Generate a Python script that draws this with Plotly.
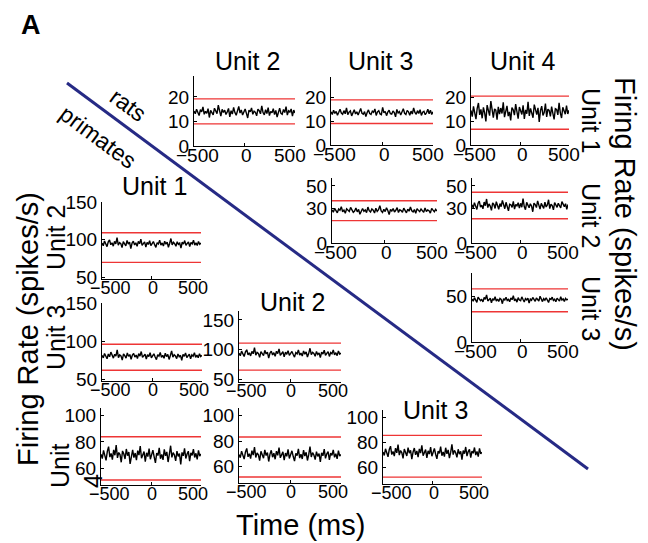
import numpy as np
import plotly.graph_objects as go

W, H = 648, 543
FONT = "Arial, Liberation Sans, sans-serif"

# ---- data -------------------------------------------------------------
time_ticks = [-500, 0, 500]
time_ticklabels = ["\u2212500", "0", "500"]

rat_row1_ticks = [0, 10, 20]
rat_row2_ticks = [0, 30, 50]
rat_row3_ticks = [0, 50]
pri_hi_ticks = [50, 100, 150]
pri_lo_ticks = [60, 80, 100]

# rats: row unit 1 vs column units 2,3,4 ; row unit 2 vs 3,4 ; row unit 3 vs 4
rat_1_2 = [14.2,13.1,15.0,13.6,12.4,14.8,13.9,15.9,12.9,14.1,13.3,15.2,11.6,14.5,13.8,12.7,15.4,14.0,13.2,16.6,13.5,12.2,14.9,13.7,14.6,12.8,13.9,15.3,11.9,14.4,13.0,15.7,13.6,12.5,14.3,16.1,13.4,14.7,12.6,13.8,15.1,13.3,11.4,14.6,13.9,15.5,12.9,14.2,13.7,12.3,15.0,14.4,13.1,16.3,13.6,12.7,14.8,13.2,15.6,12.4,14.1,13.5,15.2,12.8,14.5,11.8,14.0,15.4,13.3,12.9,14.9,13.6,16.0,12.6,14.3,13.8,15.1,12.2,14.6,13.4]
rat_1_3 = [13.9,12.8,14.6,13.2,14.1,12.5,13.7,15.0,13.4,12.9,14.4,13.1,15.6,12.7,13.8,14.3,12.2,13.5,14.8,13.0,13.9,12.6,14.5,15.3,13.3,12.9,14.0,11.9,13.6,14.7,13.2,12.8,14.2,13.7,15.1,12.4,13.9,14.4,13.0,12.7,15.8,13.5,14.1,12.3,13.8,14.6,13.1,12.9,14.3,13.6,11.8,14.9,13.4,14.0,12.6,13.7,15.2,13.3,12.8,14.5,13.9,12.5,14.2,13.0,15.5,13.6,12.9,14.4,13.2,14.8,12.4,13.7,14.1,12.7,13.5,15.0,13.1,14.6,12.8,13.9]
rat_1_4 = [14.5,11.9,16.2,13.0,10.8,15.4,17.6,12.6,14.9,11.2,15.8,13.5,9.9,16.7,14.1,12.3,18.4,13.7,11.5,15.1,14.6,10.6,16.0,12.9,15.5,13.2,17.9,11.7,14.3,16.4,12.1,13.9,10.3,15.7,14.8,12.5,17.1,13.4,11.0,15.9,14.2,12.8,16.6,10.9,14.7,13.1,18.1,12.2,15.3,13.8,11.4,16.9,14.0,12.7,15.6,9.7,14.4,16.3,12.4,13.6,17.4,11.8,15.0,14.5,12.0,16.1,13.3,10.7,15.2,14.9,12.6,17.7,13.5,11.3,15.8,14.1,12.9,16.5,13.0,14.6]
rat_2_3 = [29.1,27.0,30.4,28.2,26.5,29.8,28.7,31.9,27.4,28.9,26.1,30.0,28.4,27.6,31.2,29.3,26.9,28.0,30.7,27.3,29.5,25.2,28.6,30.2,27.8,29.0,26.6,31.5,28.3,27.1,29.9,28.8,26.3,30.5,27.7,29.2,32.8,28.1,26.8,29.6,27.5,30.9,28.5,24.9,29.4,28.0,30.3,27.2,28.7,31.0,26.7,29.1,28.4,27.0,30.6,28.9,26.4,29.7,27.9,31.6,28.2,27.3,29.3,26.0,30.1,28.6,27.5,29.8,28.1,26.9,30.8,27.6,29.0,28.3,26.2,30.4,28.8,27.4,29.5,28.0]
rat_2_4 = [33.6,30.8,35.4,32.1,29.4,34.9,36.8,31.5,33.2,29.9,35.9,32.7,38.6,31.0,34.3,32.4,28.7,35.1,33.8,30.3,36.2,32.9,29.6,34.6,31.8,37.4,33.0,30.1,35.7,32.3,28.2,34.0,33.5,31.2,36.5,29.8,33.9,32.6,35.3,30.6,34.8,31.4,39.0,32.0,29.2,35.6,33.3,30.9,34.4,32.5,27.4,35.0,33.7,31.1,36.9,32.2,29.7,34.7,33.1,30.4,35.8,31.6,33.4,37.9,30.2,34.1,32.8,29.0,35.5,33.6,31.3,34.9,32.0,30.7,36.3,33.2,31.9,34.5,29.5,33.8]
rat_3_4 = [47.3,44.9,48.8,46.1,43.7,49.5,47.9,45.6,46.8,44.2,49.0,47.1,51.8,45.3,46.5,48.4,43.1,47.6,46.0,49.9,45.0,47.4,44.6,48.1,46.9,42.2,47.8,46.3,49.3,45.7,47.0,44.4,48.6,46.6,51.0,45.2,47.5,43.9,48.9,46.2,45.5,49.7,46.8,44.1,47.9,46.4,48.2,42.8,47.2,45.9,49.1,46.7,44.8,48.5,47.0,45.1,50.4,46.3,44.5,47.7,46.1,48.7,45.4,43.6,47.8,46.9,49.4,45.8,47.1,44.3,48.3,46.6,45.0,49.8,46.2,47.5,44.7,48.0,46.4,47.3]

# primates: row unit 2 vs column unit 1 ; row unit 3 vs 1,2 ; row unit 4 vs 1,2,3
pri_2_1 = [95.6,92.1,98.4,94.0,90.8,97.2,99.9,93.4,95.9,91.5,97.8,94.6,102.7,92.8,96.3,94.9,89.6,97.5,95.2,91.9,99.1,94.3,96.8,88.3,95.7,98.2,93.1,96.0,91.2,97.9,94.7,100.8,92.5,95.4,97.1,90.4,96.5,93.8,98.7,92.2,95.0,97.6,93.5,89.9,96.2,94.4,99.5,92.9,95.8,91.7,98.0,94.1,96.9,90.1,95.3,101.6,93.2,96.6,94.8,91.4,97.4,93.9,95.5,88.9,96.7,94.2,98.9,92.6,95.1,97.0,91.1,96.4,94.5,99.3,93.0,95.9,92.4,97.7,94.0,95.6]
pri_3_1 = [81.5,78.2,84.0,80.1,77.0,83.3,79.6,85.8,80.7,77.9,82.9,80.4,88.6,78.6,82.2,80.9,75.3,83.6,81.2,78.0,84.7,80.2,82.6,76.4,81.8,84.1,79.2,82.0,77.4,83.9,80.6,86.5,78.9,81.4,83.0,76.8,82.4,79.9,84.9,78.4,81.1,83.5,79.4,75.9,82.3,80.5,85.3,78.8,81.7,77.7,84.3,80.0,82.8,76.2,81.3,87.4,79.1,82.5,80.8,77.2,83.4,79.8,81.6,74.9,82.7,80.3,84.6,78.5,81.0,82.9,77.1,82.1,80.4,85.0,79.0,81.9,78.3,83.7,80.0,81.5]
pri_3_2 = [93.8,89.4,97.1,92.2,88.0,96.0,99.5,91.0,94.3,89.1,96.8,92.7,103.2,90.3,95.0,93.4,86.6,96.4,93.6,89.7,98.5,92.5,95.6,85.4,93.9,97.2,90.8,94.5,88.4,97.0,92.9,101.1,90.0,93.7,96.1,87.5,95.3,91.8,98.0,89.9,93.2,96.7,91.4,87.0,94.8,92.6,99.2,90.6,94.0,88.8,97.5,92.0,95.9,87.3,93.5,102.0,91.2,95.2,93.1,88.6,96.6,91.6,94.1,86.1,95.4,92.3,98.7,90.2,93.3,96.3,88.2,94.9,92.8,99.0,91.0,94.6,89.5,97.3,92.1,93.8]
pri_4_1 = [70.6,67.2,73.5,69.1,65.9,72.8,76.4,68.4,71.2,66.5,73.9,69.8,77.6,67.8,71.9,70.3,64.4,73.1,70.9,66.9,74.6,69.5,72.2,63.2,70.8,74.0,68.0,71.5,66.1,73.3,69.9,76.9,67.5,70.6,72.6,64.9,71.7,68.8,74.9,66.7,70.2,73.7,68.6,63.9,71.4,69.6,75.4,67.1,70.5,66.3,74.3,69.3,72.4,64.6,70.4,77.1,68.2,71.8,70.0,65.5,73.0,68.9,71.1,62.8,72.0,69.4,75.0,67.3,70.7,72.9,65.2,71.6,69.7,74.5,68.1,71.3,66.6,73.6,69.2,70.8]
pri_4_2 = [69.5,66.9,72.0,68.3,65.8,71.4,74.2,67.6,70.1,66.2,72.5,68.9,75.3,67.1,70.7,69.2,64.6,71.9,69.8,66.5,73.1,68.6,71.0,63.9,69.7,72.7,67.3,70.4,65.7,72.1,68.8,74.8,66.8,69.4,71.5,64.9,70.6,68.0,73.4,66.3,69.1,72.3,67.8,64.2,70.3,68.5,73.9,66.6,69.6,65.9,72.9,68.2,71.2,64.7,69.3,75.6,67.5,70.9,69.0,65.4,71.7,67.9,70.2,63.6,70.8,68.4,73.6,66.4,69.9,71.6,65.1,70.5,68.7,73.0,67.2,70.0,66.0,72.4,68.1,69.5]
pri_4_3 = [72.6,69.8,75.1,71.3,68.7,74.5,77.2,70.5,73.0,69.2,75.6,71.9,78.4,70.0,73.7,72.1,67.5,74.9,72.7,69.4,76.0,71.6,73.9,66.8,72.5,75.7,70.2,73.4,68.5,75.0,71.7,77.9,69.6,72.3,74.4,67.8,73.5,70.9,76.4,69.1,72.0,75.3,70.7,67.1,73.2,71.4,76.8,69.5,72.6,68.8,75.9,71.1,74.2,67.6,72.2,78.6,70.4,73.8,71.9,68.3,74.7,70.8,73.1,66.5,73.6,71.2,76.5,69.3,72.8,74.6,68.0,73.3,71.5,76.1,70.1,72.9,68.9,75.4,71.0,72.4]

# confidence bounds (upper, lower)
rat_1_2_bounds = [19.2, 9.0]
rat_1_3_bounds = [18.9, 9.0]
rat_1_4_bounds = [20.5, 6.6]
rat_2_3_bounds = [37.0, 19.6]
rat_2_4_bounds = [44.5, 21.3]
rat_3_4_bounds = [58.5, 33.3]
pri_2_1_bounds = [109.3, 70.0]
pri_3_1_bounds = [96.0, 62.0]
pri_3_2_bounds = [110.7, 65.0]
pri_4_1_bounds = [84.0, 50.8]
pri_4_2_bounds = [83.2, 51.7]
pri_4_3_bounds = [85.8, 52.5]

# ---- layout of panels (pixel boxes) ----------------------------------
# x tick-label placement (pixel nudges) and font sizes for the two groups
R = dict(shift=[3, 2, -5], xfs=19)
P = dict(shift=[8, 1, -8], xfs=18)
YFS = 19
panels = [
    dict(y=rat_1_2, b=rat_1_2_bounds, yr=[0, 28.5], yt=rat_row1_ticks, xp=(194, 295), yp=(76, 146), **R),
    dict(y=rat_1_3, b=rat_1_3_bounds, yr=[0, 28.5], yt=rat_row1_ticks, xp=(331, 433), yp=(77, 145), **R),
    dict(y=rat_1_4, b=rat_1_4_bounds, yr=[0, 28.5], yt=rat_row1_ticks, xp=(471, 569), yp=(77, 145), **R),
    dict(y=rat_2_3, b=rat_2_3_bounds, yr=[0, 57], yt=rat_row2_ticks, xp=(332, 437), yp=(178, 243), **R),
    dict(y=rat_2_4, b=rat_2_4_bounds, yr=[0, 57], yt=rat_row2_ticks, xp=(472, 568), yp=(178, 243), **R),
    dict(y=rat_3_4, b=rat_3_4_bounds, yr=[0, 76], yt=rat_row3_ticks, xp=(472, 568), yp=(273, 342), **R),
    dict(y=pri_2_1, b=pri_2_1_bounds, yr=[48, 150], yt=pri_hi_ticks, xp=(102, 201), yp=(202, 279), **P),
    dict(y=pri_3_1, b=pri_3_1_bounds, yr=[48, 150], yt=pri_hi_ticks, xp=(102, 202), yp=(303, 381), **P),
    dict(y=pri_3_2, b=pri_3_2_bounds, yr=[45, 165], yt=pri_hi_ticks, xp=(239, 341), yp=(311, 382), **P),
    dict(y=pri_4_1, b=pri_4_1_bounds, yr=[47, 106], yt=pri_lo_ticks, xp=(101, 201), yp=(408, 485), **P),
    dict(y=pri_4_2, b=pri_4_2_bounds, yr=[47, 106], yt=pri_lo_ticks, xp=(239, 341), yp=(408, 483), **P),
    dict(y=pri_4_3, b=pri_4_3_bounds, yr=[47, 106], yt=pri_lo_ticks, xp=(383, 482), yp=(410, 484), **P),
]

fig = go.Figure()
layout = {}
annotations = []
for i, p in enumerate(panels, start=1):
    xa = "x" if i == 1 else f"x{i}"
    ya = "y" if i == 1 else f"y{i}"
    t = np.linspace(time_ticks[0], time_ticks[-1], len(p["y"]))
    for bound in p["b"]:
        fig.add_trace(go.Scatter(x=[time_ticks[0], time_ticks[-1]], y=[bound, bound], mode="lines",
                                 line=dict(color="#ee3535", width=1.4), xaxis=xa, yaxis=ya,
                                 hoverinfo="skip", showlegend=False))
    fig.add_trace(go.Scatter(x=t, y=p["y"], mode="lines", line=dict(color="black", width=1.4),
                             xaxis=xa, yaxis=ya, hoverinfo="skip", showlegend=False))
    layout["xaxis" if i == 1 else f"xaxis{i}"] = dict(
        domain=[p["xp"][0] / W, p["xp"][1] / W], anchor=ya, range=[time_ticks[0], time_ticks[-1]],
        tickvals=time_ticks, showticklabels=False, ticks="inside", ticklen=3, tickcolor="black",
        showline=True, linecolor="black", linewidth=1, showgrid=False, zeroline=False,
        fixedrange=True, automargin=False)
    layout["yaxis" if i == 1 else f"yaxis{i}"] = dict(
        domain=[1 - p["yp"][1] / H, 1 - p["yp"][0] / H], anchor=xa, range=p["yr"],
        tickvals=p["yt"], ticks="inside", ticklen=3, tickcolor="black",
        showline=True, linecolor="black", linewidth=1, showgrid=False, zeroline=False,
        tickfont=dict(family=FONT, size=YFS, color="black"), ticklabelstandoff=0,
        fixedrange=True, automargin=False)
    # time tick labels (placed as text at the tick values)
    for val, lab, sh in zip(time_ticks, time_ticklabels, p["shift"]):
        annotations.append(dict(text=lab, x=val, xref=xa, y=1 - p["yp"][1] / H, yref="paper",
                                xanchor="center", yanchor="top", xshift=sh, yshift=2, showarrow=False,
                                borderpad=0, font=dict(family=FONT, size=p["xfs"], color="black")))

def ann(text, x, y, size, angle=0, bold=False, align="center"):
    return dict(text=f"<b>{text}</b>" if bold else text, x=x / W, y=1 - y / H, xref="paper", yref="paper",
                showarrow=False, textangle=angle, align=align, xanchor="center", yanchor="middle",
                font=dict(family=FONT, size=size, color="black"))

annotations += [
    ann("A", 31, 25, 27, bold=True),
    ann("Unit 2", 247, 61, 25), ann("Unit 3", 381, 61, 25), ann("Unit 4", 522, 61, 25),
    ann("Unit 1", 591, 120, 25, angle=90), ann("Unit 2", 591, 215, 25, angle=90),
    ann("Unit 3", 591, 308, 25, angle=90),
    ann("Firing Rate (spikes/s)", 625, 214, 29, angle=90),
    ann("Unit 1", 154, 186, 25), ann("Unit 2", 292, 302, 25), ann("Unit 3", 435, 410, 25),
    ann("Unit 2", 56, 238, 25, angle=-90), ann("Unit 3", 56, 338, 25, angle=-90),
    ann("Unit<br>4", 76, 466, 25, angle=-90, align="left"),
    ann("Firing Rate (spikes/s)", 28, 329, 29, angle=-90),
    ann("Time (ms)", 300, 525, 29),
    ann("rats", 128, 105, 23, angle=36.5),
    ann("primates", 98, 137, 23, angle=36.5),
]

shapes = [dict(type="line", xref="paper", yref="paper", x0=67 / W, y0=1 - 83 / H, x1=588 / W, y1=1 - 469 / H,
               line=dict(color="#262a85", width=3))]

fig.update_layout(width=W, height=H, margin=dict(l=0, r=0, t=0, b=0, pad=0, autoexpand=False),
                  paper_bgcolor="white", plot_bgcolor="rgba(0,0,0,0)", annotations=annotations, shapes=shapes,
                  font=dict(family=FONT, color="black"), **layout)
fig.write_html("out.html", config={"displayModeBar": False, "staticPlot": True},
               post_script="document.body.style.margin='0px';document.body.style.padding='0px';")
